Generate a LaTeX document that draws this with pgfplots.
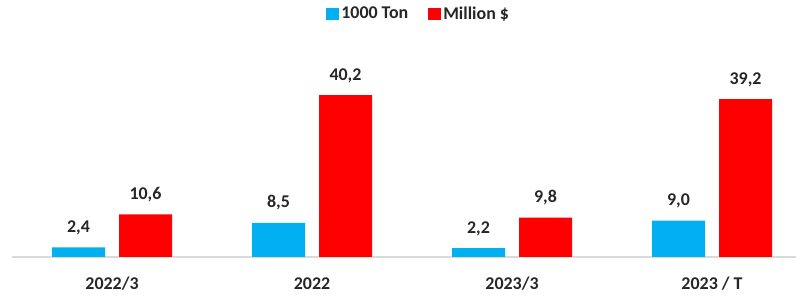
\documentclass[border=0pt]{standalone}
\usepackage{pgfplots}
\pgfplotsset{compat=1.18}
\usepackage{fontspec}
\setmainfont{Carlito}
\definecolor{tonblue}{RGB}{0,176,240}
\definecolor{usdred}{RGB}{255,0,0}
\definecolor{txt}{RGB}{38,38,38}
\definecolor{axgray}{RGB}{217,217,217}
\begin{document}
\begin{tikzpicture}
\useasboundingbox (-12bp,-42bp) rectangle (789bp,257bp);
\begin{axis}[
  scale only axis,
  width=784bp, height=257bp,
  xmin=-0.5, xmax=3.42,
  ymin=0, ymax=63.8,
  ybar=14bp, bar width=53bp,
  hide y axis,
  axis x line*=bottom,
  x axis line style={draw=axgray, line width=1.2bp},
  xtick={0,1,2,3},
  xticklabels={2022/3,2022,2023/3,2023 / T},
  major tick length=0pt,
  xticklabel style={anchor=base, yshift=-32bp, font=\fontsize{18}{20}\selectfont\bfseries, text=txt},
  /pgf/number format/assume math mode=true,
  nodes near coords,
  nodes near coords style={anchor=base, yshift=15bp, font=\fontsize{18}{20}\selectfont\bfseries, text=txt,
    /pgf/number format/.cd, fixed, fixed zerofill, precision=1, use comma},
  legend columns=2,
  legend style={draw=none, fill=none, at={(0.5187,0.947)}, anchor=center,
    font=\fontsize{18}{20}\selectfont\bfseries, text=txt, inner sep=0pt,
    /tikz/every even column/.append style={column sep=18bp}},
  legend image code/.code={\fill[#1] (0bp,-6bp) rectangle (13bp,6bp);},
]
\addplot[fill=tonblue, draw=none] coordinates {(0,2.4) (1,8.5) (2,2.2) (3,9.0)};
\addplot[fill=usdred, draw=none] coordinates {(0,10.6) (1,40.2) (2,9.8) (3,39.2)};
\legend{1000 Ton, Million \$}
\end{axis}
\end{tikzpicture}
\end{document}
